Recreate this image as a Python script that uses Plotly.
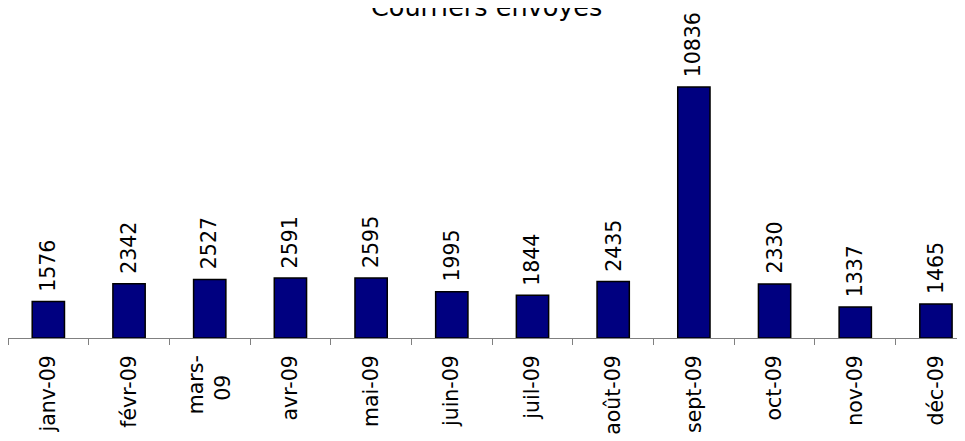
import plotly.graph_objects as go

# data
months = ["janv-09", "févr-09", "mars-09", "avr-09", "mai-09", "juin-09",
          "juil-09", "août-09", "sept-09", "oct-09", "nov-09", "déc-09"]
tick_labels = ["janv-09", "févr-09", "mars-<br>09\u00a0\u00a0\u00a0", "avr-09", "mai-09", "juin-09",
               "juil-09", "août-09", "sept-09", "oct-09", "nov-09", "déc-09"]
courriers = [1576, 2342, 2527, 2591, 2595, 1995, 1844, 2435, 10836, 2330, 1337, 1465]

NAVY = "#000080"
FONT = "DejaVu Sans"

fig = go.Figure()
fig.add_trace(go.Bar(
    x=months,
    y=courriers,
    width=0.4,
    marker=dict(color=NAVY, line=dict(color="black", width=1.5)),
    hoverinfo="x+y",
))

# value labels, rotated, just above each bar
for m, v in zip(months, courriers):
    fig.add_annotation(
        x=m, y=v, xref="x", yref="y",
        text=str(v), textangle=-90,
        showarrow=False, yanchor="bottom", yshift=8,
        font=dict(family=FONT, size=20.5, color="black"),
    )

# title (partly cut off at the top, as in the source)
fig.add_annotation(
    x=0.5, y=1.128, xref="paper", yref="paper",
    text="Courriers envoyés", showarrow=False,
    xanchor="center", yanchor="bottom",
    font=dict(family=FONT, size=25.5, color="black"),
)

fig.update_xaxes(
    type="category",
    tickvals=months,
    ticktext=tick_labels,
    tickangle=-90,
    range=[-0.5, 11.36],
    showline=True, linecolor="#808080", linewidth=1,
    ticks="outside", tickson="boundaries", ticklen=6, tickcolor="#808080",
    ticklabelstandoff=8,
    tickfont=dict(family=FONT, size=20.5, color="black"),
    showgrid=False, zeroline=False,
)
fig.update_yaxes(range=[0, 12000], visible=False, showgrid=False, zeroline=False)

# the page body adds an 8px offset, so the figure is sized to fit the window
fig.update_layout(
    width=957, height=441,
    margin=dict(l=0, r=0, t=52, b=111),
    paper_bgcolor="white", plot_bgcolor="white",
    showlegend=False,
    font=dict(family=FONT, color="black"),
)

fig.write_html("out.html")
